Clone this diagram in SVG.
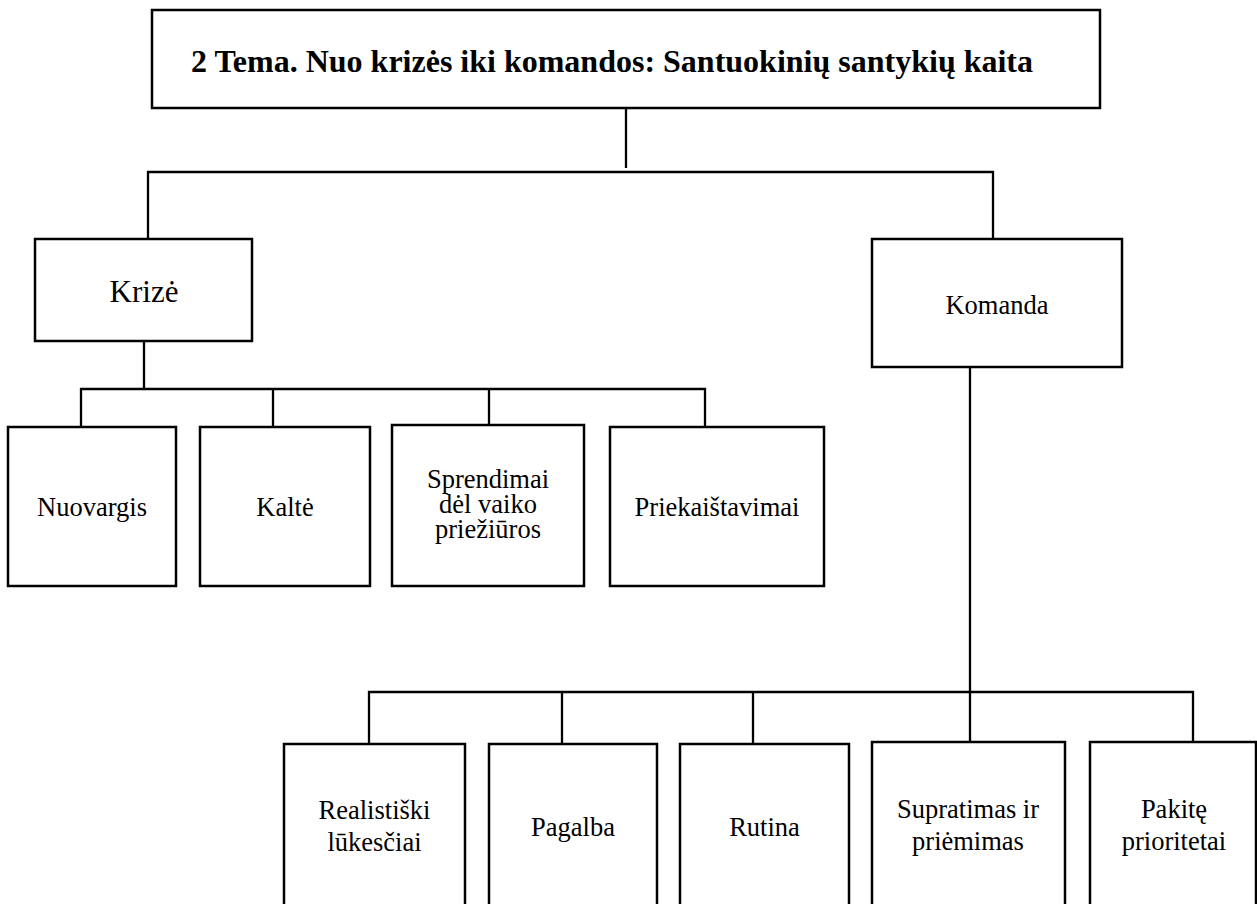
<svg xmlns="http://www.w3.org/2000/svg" width="1257" height="904" viewBox="0 0 1257 904">
<style>
.box{fill:#fff;stroke:#000;stroke-width:2.5}
.ln{fill:none;stroke:#000;stroke-width:2.3}
text{font-family:"Liberation Serif","Times New Roman",serif;fill:#000;text-anchor:middle}
.t{font-size:32px;font-weight:bold}
.k{font-size:31px}
.n{font-size:26.5px}
</style>
<rect width="1257" height="904" fill="#fff"/>
<g id="connectors">
<path class="ln" d="M626,109 V168"/>
<path class="ln" d="M148,247 V172 H993 V239"/>
<path class="ln" d="M144,341 V389"/>
<path class="ln" d="M81,427 V389 H705 V427"/>
<path class="ln" d="M273,389 V427"/>
<path class="ln" d="M489,389 V426"/>
<path class="ln" d="M970,367 V742"/>
<path class="ln" d="M369,743 V692 H1193 V743"/>
<path class="ln" d="M562,692 V743"/>
<path class="ln" d="M753,692 V743"/>
</g>
<g id="title">
<rect class="box" x="152" y="10" width="948" height="98"/>
<text class="t" x="612" y="72">2 Tema. Nuo krizės iki komandos: Santuokinių santykių kaita</text>
</g>
<g id="krize">
<rect class="box" x="35" y="239" width="217" height="102"/>
<text class="k" x="144" y="302">Krizė</text>
</g>
<g id="komanda">
<rect class="box" x="872" y="239" width="250" height="128"/>
<text class="n" x="997" y="314">Komanda</text>
</g>
<g id="nuovargis">
<rect class="box" x="8" y="427" width="168" height="159"/>
<text class="n" x="92" y="516">Nuovargis</text>
</g>
<g id="kalte">
<rect class="box" x="200" y="427" width="170" height="159"/>
<text class="n" x="285" y="516">Kaltė</text>
</g>
<g id="sprendimai">
<rect class="box" x="392" y="425" width="192" height="161"/>
<text class="n"><tspan x="488" y="488">Sprendimai</tspan><tspan x="488" y="513">dėl vaiko</tspan><tspan x="488" y="538">priežiūros</tspan></text>
</g>
<g id="priekaistavimai">
<rect class="box" x="610" y="427" width="214" height="159"/>
<text class="n" x="717" y="516">Priekaištavimai</text>
</g>
<g id="realistiski">
<rect class="box" x="284" y="744" width="181" height="200"/>
<text class="n"><tspan x="374.5" y="819">Realistiški</tspan><tspan x="374.5" y="851">lūkesčiai</tspan></text>
</g>
<g id="pagalba">
<rect class="box" x="489" y="744" width="168" height="200"/>
<text class="n" x="573" y="836">Pagalba</text>
</g>
<g id="rutina">
<rect class="box" x="680" y="744" width="169" height="200"/>
<text class="n" x="764.5" y="836">Rutina</text>
</g>
<g id="supratimas">
<rect class="box" x="872" y="742" width="193" height="200"/>
<text class="n"><tspan x="968" y="818">Supratimas ir</tspan><tspan x="968" y="850">priėmimas</tspan></text>
</g>
<g id="pakite">
<rect class="box" x="1090" y="742" width="166" height="200"/>
<text class="n"><tspan x="1174" y="818">Pakitę</tspan><tspan x="1174" y="850">prioritetai</tspan></text>
</g>
</svg>
